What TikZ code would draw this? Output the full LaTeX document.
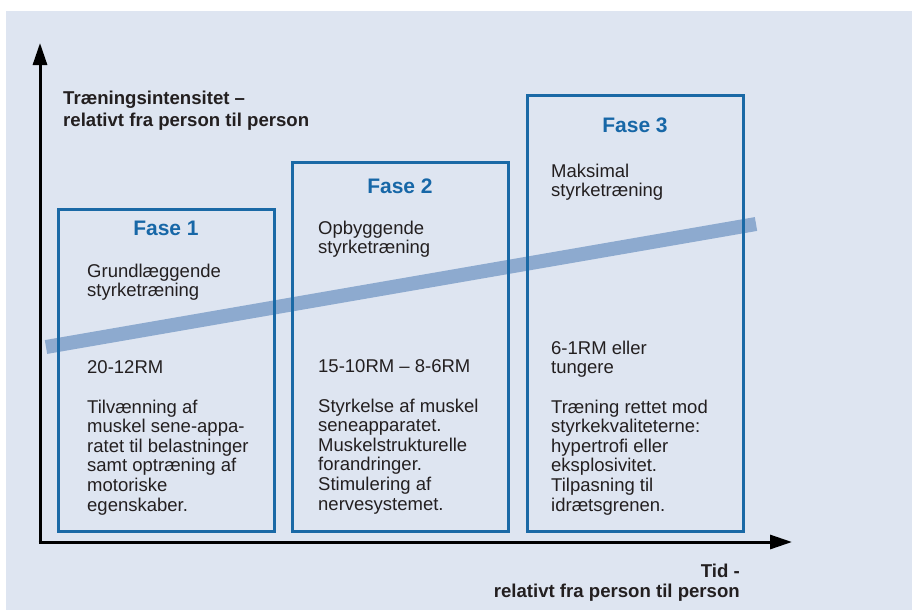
\documentclass[tikz,border=0pt]{standalone}
\usepackage{fontspec}
\setmainfont{Liberation Sans}
\usetikzlibrary{arrows.meta}
\definecolor{bgblue}{HTML}{DEE5F1}
\definecolor{boxblue}{HTML}{1A69A6}
\definecolor{titleblue}{HTML}{1767A7}
\definecolor{bandblue}{HTML}{8DAACF}
\definecolor{textdark}{HTML}{231F20}
\begin{document}
\begin{tikzpicture}[x=1pt,y=-1pt,
  phasebox/.style={draw=boxblue, line width=3pt, minimum width=216pt, inner sep=0pt},
  phasetitle/.style={font=\fontsize{21}{24}\selectfont\bfseries, text=titleblue, anchor=base, inner sep=0pt},
  bodytext/.style={font=\fontsize{18.5}{19.6}\selectfont, text=textdark, align=left, anchor=base west, inner sep=0pt},
  axislabel/.style={font=\fontsize{18.6}{22.5}\selectfont\bfseries, text=textdark, inner sep=0pt},
  axisline/.style={line width=3pt, draw=black, -{Triangle[length=22pt,width=14pt]}},
  band/.style={draw=bandblue, line width=14pt}
]
\useasboundingbox (0,0) rectangle (912,610);
\fill[bgblue] (6,11) rectangle (912,610);

% trend band
\coordinate (bandL) at (46,347);
\coordinate (bandR) at (756,224);
\draw[band] (bandL) -- (bandR);

% phase boxes
\node[phasebox, minimum height=322pt] (box1) at (166,370) {};
\node[phasebox, minimum height=369pt] (box2) at (400,346.5) {};
\node[phasebox, minimum height=436pt] (box3) at (635,313) {};

% axes
\coordinate (origin) at (40,542);
\coordinate (ytip) at (40,43);
\coordinate (xtip) at (792,542);
\draw[axisline] ([yshift=1.5pt]origin) -- (ytip);
\draw[axisline] ([xshift=-1.5pt]origin) -- (xtip);

% axis labels (base anchor = last line)
\node[axislabel, align=left, anchor=base west] (ylabel) at (63,126.5)
  {Træningsintensitet –\\relativt fra person til person};
\node[axislabel, align=right, anchor=base east, font=\fontsize{18.6}{20.5}\selectfont\bfseries] (xlabel) at (740,597.5)
  {Tid -\\relativt fra person til person};

% titles
\node[phasetitle] (t1) at (166,235) {Fase 1};
\node[phasetitle] (t2) at (400,193) {Fase 2};
\node[phasetitle] (t3) at (635,132) {Fase 3};

% box 1
\node[bodytext] (a1) at (87,296.6) {Grundlæggende\\styrketræning};
\node[bodytext] (b1) at (87,373) {20-12RM};
\node[bodytext] (c1) at (87,511) {Tilvænning af\\muskel sene-appa-\\ratet til belastninger\\samt optræning af\\motoriske\\egenskaber.};

% box 2
\node[bodytext] (a2) at (318,253.6) {Opbyggende\\styrketræning};
\node[bodytext] (b2) at (318,372) {15-10RM – 8-6RM};
\node[bodytext] (c2) at (318,510) {Styrkelse af muskel\\seneapparatet.\\Muskelstrukturelle\\forandringer.\\Stimulering af\\nervesystemet.};

% box 3
\node[bodytext] (a3) at (551,196.6) {Maksimal\\styrketræning};
\node[bodytext] (b3) at (551,373.6) {6-1RM eller\\tungere};
\node[bodytext] (c3) at (551,511) {Træning rettet mod\\styrkekvaliteterne:\\hypertrofi eller\\eksplosivitet.\\Tilpasning til\\idrætsgrenen.};
\end{tikzpicture}
\end{document}
